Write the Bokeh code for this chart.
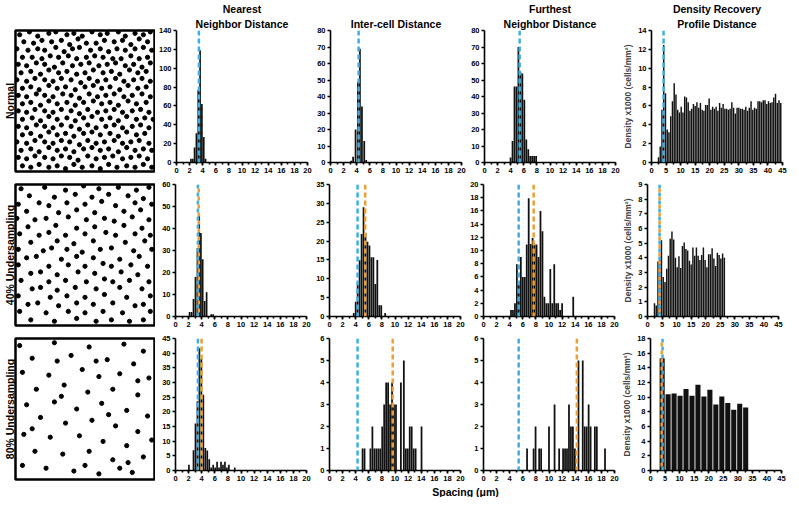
import math
from bokeh.plotting import figure
from bokeh.layouts import column, row
from bokeh.models import Range1d, Span, FixedTicker, Label, Title
from bokeh.embed import file_html
from bokeh.resources import INLINE

FONT = "Liberation Sans"
BLUE = "#3AB0E2"
ORANGE = "#EE9F33"
BAR = "#111111"

# ---------------- cell mosaics (box coordinates 0..100, y from top) ----------------
normal_x = (
    [3, 10, 16, 24, 29, 37, 42, 48, 55, 61, 66, 74, 79, 86, 92, 97]
    + [6, 13, 19, 26, 33, 39, 45, 51, 58, 64, 71, 77, 83, 89, 95]
    + [1, 9, 16, 21, 29, 35, 41, 46, 54, 61, 67, 73, 79, 86, 92, 98]
    + [5, 12, 19, 25, 31, 38, 44, 51, 57, 63, 70, 76, 83, 89, 95]
    + [2, 8, 15, 21, 28, 34, 41, 47, 53, 60, 66, 72, 79, 85, 91, 97]
    + [4, 11, 18, 24, 31, 37, 44, 50, 56, 63, 69, 75, 82, 88, 94]
    + [1, 8, 14, 21, 27, 33, 40, 47, 53, 59, 65, 72, 78, 85, 91, 97]
    + [5, 11, 17, 24, 30, 36, 43, 50, 56, 62, 68, 75, 81, 88, 94]
    + [2, 8, 15, 21, 27, 34, 40, 46, 53, 59, 65, 71, 78, 84, 91, 97]
    + [5, 11, 18, 24, 30, 37, 43, 49, 56, 62, 68, 74, 81, 87, 94]
    + [2, 8, 14, 21, 27, 33, 40, 46, 52, 59, 65, 71, 77, 84, 90, 96]
    + [5, 12, 18, 24, 30, 37, 43, 49, 55, 62, 68, 74, 80, 87, 93, 99]
    + [2, 8, 15, 21, 27, 33, 40, 46, 52, 58, 65, 71, 77, 84, 90, 96]
    + [5, 11, 18, 24, 30, 36, 42, 49, 55, 61, 68, 74, 80, 87, 93]
    + [1, 8, 14, 21, 27, 33, 39, 46, 52, 58, 64, 71, 77, 83, 89, 96]
    + [4, 11, 17, 24, 30, 36, 42, 49, 55, 61, 67, 74, 80, 86, 92, 98]
    + [2, 8, 14, 21, 27, 33, 39, 45, 52, 58, 64, 70, 77, 83, 89, 95]
    + [5, 11, 17, 24, 30, 36, 42, 48, 55, 61, 67, 73, 80, 86, 92, 98]
)
normal_y = (
    [3, 1, 4, 2, 1, 3, 2, 4, 1, 3, 2, 1, 4, 2, 3, 1]
    + [8, 9, 7, 8, 7, 10, 6, 9, 9, 7, 8, 7, 10, 6, 8]
    + [13, 14, 13, 14, 12, 15, 13, 12, 14, 13, 15, 13, 14, 13, 12, 14]
    + [19, 19, 20, 18, 19, 18, 20, 19, 18, 19, 20, 20, 18, 20, 19]
    + [24, 25, 23, 24, 26, 23, 25, 24, 23, 25, 24, 23, 25, 24, 26, 23]
    + [30, 29, 31, 28, 30, 29, 31, 30, 28, 30, 29, 31, 28, 30, 29]
    + [35, 36, 34, 35, 36, 34, 35, 37, 34, 36, 35, 34, 36, 35, 34, 36]
    + [41, 40, 42, 39, 41, 40, 42, 40, 39, 41, 40, 42, 39, 41, 40]
    + [46, 47, 45, 46, 47, 45, 46, 48, 45, 47, 46, 45, 47, 46, 45, 47]
    + [52, 51, 53, 50, 52, 51, 53, 51, 50, 52, 51, 53, 50, 52, 51]
    + [57, 58, 56, 57, 58, 56, 57, 59, 56, 58, 57, 56, 58, 57, 56, 58]
    + [63, 62, 64, 61, 63, 62, 64, 62, 61, 63, 62, 64, 61, 63, 62, 63]
    + [68, 69, 67, 68, 69, 67, 68, 70, 67, 69, 68, 67, 69, 68, 67, 69]
    + [74, 73, 75, 72, 74, 73, 75, 73, 72, 74, 73, 75, 72, 74, 73]
    + [79, 80, 78, 79, 80, 78, 79, 81, 78, 80, 79, 78, 80, 79, 78, 80]
    + [85, 84, 86, 83, 85, 84, 86, 84, 83, 85, 84, 86, 83, 85, 84, 85]
    + [90, 91, 89, 90, 91, 89, 90, 92, 89, 91, 90, 89, 91, 90, 89, 91]
    + [96, 97, 95, 97, 96, 98, 95, 97, 96, 98, 95, 97, 96, 97, 95, 97]
)

under40_x = (
    [4, 21, 36, 49, 60, 74, 87, 96] + [10, 28, 43, 55, 67, 81, 92]
    + [2, 17, 24, 37, 50, 62, 72, 86, 98] + [8, 31, 44, 57, 78, 90]
    + [1, 14, 22, 38, 51, 64, 71, 84, 96] + [9, 29, 44, 57, 78, 91]
    + [3, 17, 24, 36, 50, 65, 72, 86, 97] + [11, 30, 42, 56, 79, 93]
    + [2, 20, 26, 37, 48, 61, 69, 85, 98] + [8, 15, 33, 44, 56, 75, 89]
    + [2, 24, 38, 50, 63, 69, 83, 95] + [11, 18, 30, 45, 57, 76, 88]
    + [4, 24, 36, 51, 64, 70, 82, 96] + [12, 18, 30, 43, 58, 75, 91]
    + [2, 25, 37, 50, 64, 80, 97] + [9, 16, 31, 44, 56, 70, 86, 92]
    + [3, 22, 38, 50, 63, 77, 97] + [11, 28, 44, 58, 69, 82, 92]
)
under40_y = (
    [3, 2, 4, 1, 3, 2, 4, 2] + [8, 9, 7, 9, 7, 8, 10]
    + [14, 13, 15, 13, 14, 12, 15, 13, 14] + [19, 20, 18, 20, 19, 18]
    + [24, 25, 24, 23, 25, 24, 26, 23, 25] + [30, 29, 31, 30, 29, 31]
    + [35, 36, 34, 36, 35, 34, 36, 35, 36] + [41, 40, 42, 40, 41, 40]
    + [46, 47, 45, 46, 48, 46, 45, 47, 46] + [52, 51, 53, 51, 52, 53, 51]
    + [57, 58, 57, 58, 56, 58, 57, 58] + [63, 62, 64, 62, 63, 62, 64]
    + [68, 69, 68, 69, 67, 69, 68, 69] + [74, 73, 75, 73, 74, 73, 74]
    + [79, 80, 79, 80, 78, 80, 79] + [85, 84, 86, 84, 85, 84, 86, 85]
    + [90, 91, 90, 91, 90, 91, 90] + [96, 97, 95, 97, 96, 97, 96]
)

under80_x = [28, 53, 78, 92, 12, 40, 66, 85, 5, 24, 48, 60, 75, 96, 15, 35, 52, 70, 88, 8,
             28, 44, 62, 80, 95, 18, 36, 55, 72, 88, 6, 25, 46, 63, 80, 14, 34, 53, 70, 92,
             22, 42, 60, 84, 5, 98, 30, 88, 50, 75, 3, 58, 33, 67, 12, 81]
under80_y = [3, 6, 4, 9, 14, 12, 15, 18, 24, 26, 22, 27, 25, 28, 36, 33, 38, 36, 40, 47,
             45, 50, 46, 51, 55, 56, 60, 58, 62, 66, 68, 70, 69, 73, 76, 80, 82, 80, 86, 84,
             92, 94, 96, 95, 90, 72, 16, 30, 90, 92, 5, 16, 41, 54, 64, 88]

# ---------------- histograms ----------------
# Normal
nnd_norm_x = [2.2, 2.48, 2.76, 3.04, 3.32, 3.6, 3.88, 4.16, 4.44]
nnd_norm_n = [4, 4, 16, 31, 77, 119, 62, 27, 4]
ic_norm_x = [3.15, 3.45, 3.83, 4.18, 4.49, 4.8, 5.15, 5.45]
ic_norm_n = [1, 3.5, 20, 49, 69, 34, 13, 1.5]
fnd_norm_x = [3.98, 4.28, 4.58, 4.88, 5.18, 5.48, 5.78, 6.08, 6.38, 6.68, 6.98, 7.28, 7.58, 7.88]
fnd_norm_n = [3, 13, 46, 46, 70, 55, 54, 38, 14, 8, 4, 4, 4, 4]
drp_norm_d = [0.55, 1.7, 5.6, 12.45, 7.35, 3.5, 3.2, 4.9, 6.5, 8.4, 7.2, 5.6, 5.3, 5.9, 5.3,
              7.0, 6.9, 6.4, 5.5, 5.7, 6.2, 6.0, 6.4, 5.8, 6.3, 5.6, 5.5, 6.1, 6.1, 6.8,
              5.6, 5.9, 5.7, 5.9, 5.5, 6.3, 5.8, 6.2, 5.7, 5.7, 5.6, 5.7, 6.4, 5.8, 5.2,
              5.8, 5.8, 5.7, 5.7, 5.6, 5.9, 5.5, 5.8, 6.5, 5.6, 5.8, 5.7, 6.5, 6.5, 6.4,
              6.6, 6.6, 6.2, 6.5, 6.3, 6.4, 6.9, 7.3, 6.3, 6.6, 6.3]
# 40% undersampling
nnd_40_x = [2.15, 2.45, 2.75, 3.05, 3.35, 3.62, 3.88, 4.15, 4.45, 4.75, 5.45, 5.75]
nnd_40_n = [2, 2, 8, 18, 31, 47, 38, 26, 7, 11, 1, 1]
ic_40_x = [3.7, 4.0, 4.3, 4.6, 4.9, 5.2, 5.5, 5.8, 6.1, 6.4, 6.7, 7.0, 7.3, 7.6, 7.9, 8.5]
ic_40_n = [0.9, 3.9, 8.8, 14.9, 21.9, 29, 22, 19.8, 18.8, 15.7, 15.7, 8.6, 15, 3, 3, 0.9]
fnd_40_x = [4.2, 4.5, 4.8, 5.1, 5.4, 5.7, 6.0, 6.3, 6.6, 6.9, 7.2, 7.5, 7.8, 8.1, 8.4, 8.7,
            9.0, 9.3, 9.6, 9.9, 10.2, 10.5, 10.8, 11.1, 11.4, 11.7, 12.0, 13.7]
fnd_40_n = [1, 1, 2, 7.9, 5, 9, 6, 6, 10.9, 17.9, 11, 11.9, 10.9, 10.9, 9, 16,
            12.9, 3, 2, 2, 7.2, 2, 7.9, 2, 2, 1, 2, 3]
drp_40_d = [0.9, 0.75, 3.75, 4.0, 5.2, 2.7, 2.35, 3.25, 4.15, 5.3, 5.8, 5.25, 4.0, 3.35,
            4.1, 3.3, 4.8, 5.05, 4.6, 4.5, 3.8, 3.55, 4.7, 4.15, 4.7, 4.15, 3.85, 4.2,
            4.7, 3.85, 3.35, 4.25, 4.25, 4.65, 3.95, 3.45, 4.35, 4.2, 3.95, 4.3, 4.0]
# 80% undersampling
nnd_80_x = [2.05, 2.75, 3.05, 3.35, 3.65, 3.95, 4.25, 4.55, 4.85, 5.15, 5.45, 5.75, 6.05,
            6.35, 6.65, 6.95, 7.25, 7.55, 7.85, 8.15, 9.05]
nnd_80_n = [2, 6.9, 16, 23.6, 41.7, 38, 25.8, 7.7, 6.8, 3.8, 1, 2, 1, 3, 1, 3, 2, 3, 1, 2, 1]
ic_80_x = [5.05, 5.35, 6.25, 6.55, 6.85, 7.15, 7.45, 7.75, 8.05, 8.35, 8.65, 8.95, 9.25,
           9.55, 9.85, 10.15, 10.9, 11.35, 11.65, 11.95, 12.25, 12.55, 12.85, 13.15, 14.05]
ic_80_n = [1, 1, 1, 2, 1, 1, 1, 1, 2, 3, 4, 4, 3, 4, 3, 3, 4, 5, 1, 1, 2, 2, 1, 1, 2]
fnd_80_x = [6.65, 7.65, 7.95, 8.5, 8.8, 10.0, 10.85, 11.55, 12.15, 12.45, 12.75, 13.05,
            13.35, 13.65, 13.95, 14.5, 15.15, 15.45, 15.75, 16.05, 16.35, 17.0, 17.3, 18.55]
fnd_80_n = [1, 1, 2, 1, 1, 2, 3, 1, 1, 1, 1, 3, 2, 2, 1, 5, 5, 2, 2, 3, 2, 2, 2, 1]
drp_80_x = [4.0, 6.05, 8.1, 10.15, 12.2, 14.25, 16.3, 18.35, 20.4, 22.45, 24.5, 26.55,
            28.6, 30.65, 32.7]
drp_80_d = [15.3, 10.4, 10.5, 10.2, 11.1, 10.2, 11.7, 10.1, 11.0, 9.0, 10.1, 9.2, 8.3, 9.1, 8.6]

DRP_BIN = 0.6
drp_norm_x = [round(2.4 + DRP_BIN * i, 2) for i in range(len(drp_norm_d))]
drp_40_x = [round(2.4 + DRP_BIN * i, 2) for i in range(len(drp_40_d))]

# reference-spacing markers (blue = normal mosaic, orange = undersampled mosaic)
mark_norm = {"nnd": 3.42, "ic": 4.29, "fnd": 5.37, "drp": 4.15}
mark_40 = {"nnd": 3.55, "ic": 5.45, "fnd": 7.66, "drp": 4.15}
mark_80 = {"nnd": 3.98, "ic": 9.65, "fnd": 14.25, "drp": 3.85}

TITLES = [["Nearest", "Neighbor Distance"], ["Inter-cell Distance"],
          ["Furthest", "Neighbor Distance"], ["Density Recovery", "Profile Distance"]]
ROW_LABELS = ["Normal", "40% Undersampling", "80% Undersampling"]

FW, FH = 131, 132
BOX_W, BOX_H = 139, 141


def style_axis(ax):
    ax.axis_line_width = 1.6
    ax.axis_line_color = "black"
    ax.major_tick_line_width = 1.6
    ax.major_tick_line_color = "black"
    ax.minor_tick_line_width = 1.6
    ax.minor_tick_line_color = "black"
    ax.major_tick_in = 0
    ax.major_tick_out = 3
    ax.minor_tick_in = 0
    ax.minor_tick_out = 2
    ax.major_label_text_font = FONT
    ax.major_label_text_font_style = "bold"
    ax.major_label_text_font_size = "7.5px"
    ax.major_label_text_color = "black"
    ax.major_label_standoff = 2


def hist(xs, ns, bw, xmax, xstep, xminor, ymax, ystep, blue, orange, title, bl, br, bt, bb,
         ylabel=None, together=False):
    p = figure(frame_width=FW, frame_height=FH, x_range=Range1d(0, xmax), y_range=Range1d(0, ymax),
               toolbar_location=None, output_backend="svg",
               min_border_left=bl, min_border_right=br, min_border_top=bt, min_border_bottom=bb)
    p.title = None
    p.grid.visible = False
    p.outline_line_color = None
    p.background_fill_color = "white"
    p.border_fill_color = "white"
    p.vbar(x=xs, top=ns, width=bw, fill_color=BAR, line_color=None)
    if together:
        p.add_layout(Span(location=blue, dimension="height", line_color=BLUE, line_width=2.5,
                          line_dash="4 4"))
        p.add_layout(Span(location=orange, dimension="height", line_color=ORANGE, line_width=2.5,
                          line_dash="4 4", line_dash_offset=4))
    else:
        p.add_layout(Span(location=blue, dimension="height", line_color=BLUE, line_width=2.5,
                          line_dash="5 3"))
        if orange is not None:
            p.add_layout(Span(location=orange, dimension="height", line_color=ORANGE,
                              line_width=2.5, line_dash="5 3"))
    nmaj = int(round(xmax / xstep))
    nmin = int(round(xmax / xminor))
    p.xaxis.ticker = FixedTicker(ticks=[round(i * xstep, 3) for i in range(nmaj + 1)],
                                 minor_ticks=[round(i * xminor, 3) for i in range(nmin + 1)])
    ny = int(round(ymax / ystep))
    p.yaxis.ticker = FixedTicker(ticks=[round(i * ystep, 3) for i in range(ny + 1)], minor_ticks=[])
    for ax in p.xaxis + p.yaxis:
        style_axis(ax)
    if ylabel:
        p.yaxis.axis_label = ylabel
        p.yaxis.axis_label_text_font = FONT
        p.yaxis.axis_label_text_font_style = "bold"
        p.yaxis.axis_label_text_font_size = "8.5px"
        p.yaxis.axis_label_standoff = 2
    if title:
        # centre of the frame relative to the centre of the whole canvas
        off = (bl - br) / 2.0
        for i, line in enumerate(reversed(title)):
            t = Title(text=line, align="center", offset=off, text_font=FONT,
                      text_font_style="bold", text_font_size="10.5px", text_color="black")
            try:
                t.standoff = 2 if i == 0 else 0
            except Exception:
                pass
            p.add_layout(t, "above")
    return p


def box(xs, ys, label, bt, bb):
    p = figure(frame_width=BOX_W, frame_height=BOX_H, x_range=Range1d(0, 100), y_range=Range1d(100, 0),
               toolbar_location=None, output_backend="svg", x_axis_location=None,
               y_axis_location="left",
               min_border_left=13, min_border_right=1, min_border_top=bt, min_border_bottom=bb)
    p.title = None
    p.grid.visible = False
    p.outline_line_color = "black"
    p.outline_line_width = 2.5
    p.scatter(xs, ys, size=4.2, color="black")
    ax = p.yaxis[0]
    ax.ticker = FixedTicker(ticks=[], minor_ticks=[])
    ax.axis_line_color = None
    ax.major_tick_line_color = None
    ax.minor_tick_line_color = None
    ax.major_tick_out = 0
    ax.minor_tick_out = 0
    ax.major_label_standoff = 0
    ax.major_label_text_font_size = "0px"
    ax.axis_label = label
    ax.axis_label_standoff = 0
    ax.axis_label_text_font = FONT
    ax.axis_label_text_font_style = "bold"
    ax.axis_label_text_font_size = "10.5px"
    ax.axis_label_text_color = "black"
    return p


def make_row(idx, pts, data, marks, bt, with_titles):
    t = TITLES if with_titles else [None] * 4
    orange = None if idx == 0 else marks
    figs = [box(pts[0], pts[1], ROW_LABELS[idx], bt, 6)]
    (nx, nn, nym, nys), (ix, inn, iym, iys), (fx, fn, fym, fys), (dx, dd, dym, dys, dw) = data
    blue = mark_norm
    figs.append(hist(nx, nn, 0.26, 20, 2, 1, nym, nys, blue["nnd"],
                     None if orange is None else orange["nnd"], t[0], 20, 5, bt, 15,
                     together=(idx == 1)))
    figs.append(hist(ix, inn, 0.27, 20, 2, 1, iym, iys, blue["ic"],
                     None if orange is None else orange["ic"], t[1], 18, 5, bt, 15))
    figs.append(hist(fx, fn, 0.27, 20, 2, 1, fym, fys, blue["fnd"],
                     None if orange is None else orange["fnd"], t[2], 18, 5, bt, 15))
    figs.append(hist(dx, dd, dw, 45, 5, 2.5, dym, dys, blue["drp"],
                     None if orange is None else orange["drp"], t[3], 28, 7, bt, 15,
                     ylabel="Density x1000 (cells/mm\u00b2)", together=(idx > 0)))
    return row(*figs)


r1 = make_row(0, (normal_x, normal_y),
              ((nnd_norm_x, nnd_norm_n, 140, 20), (ic_norm_x, ic_norm_n, 80, 10),
               (fnd_norm_x, fnd_norm_n, 80, 10), (drp_norm_x, drp_norm_d, 14, 2, 0.5)),
              mark_norm, 28, True)
r2 = make_row(1, (under40_x, under40_y),
              ((nnd_40_x, nnd_40_n, 60, 10), (ic_40_x, ic_40_n, 35, 5),
               (fnd_40_x, fnd_40_n, 20, 2), (drp_40_x, drp_40_d, 9, 1, 0.5)),
              mark_40, 7, False)
r3 = make_row(2, (under80_x, under80_y),
              ((nnd_80_x, nnd_80_n, 45, 5), (ic_80_x, ic_80_n, 6, 1),
               (fnd_80_x, fnd_80_n, 6, 1), (drp_80_x, drp_80_d, 18, 2, 1.75)),
              mark_80, 7, False)

strip = figure(frame_width=783, frame_height=12, x_range=Range1d(0, 783), y_range=Range1d(0, 12),
               toolbar_location=None, output_backend="svg", x_axis_location=None,
               y_axis_location=None, min_border=0)
strip.title = None
strip.grid.visible = False
strip.outline_line_color = None
strip.add_layout(Label(x=465, y=6, text="Spacing (\u03bcm)", text_align="center",
                       text_baseline="middle", text_font=FONT, text_font_style="bold",
                       text_font_size="10.5px", text_color="black"))

p = column(r1, r2, r3, strip)
open("out.html", "w").write(file_html(p, INLINE))
